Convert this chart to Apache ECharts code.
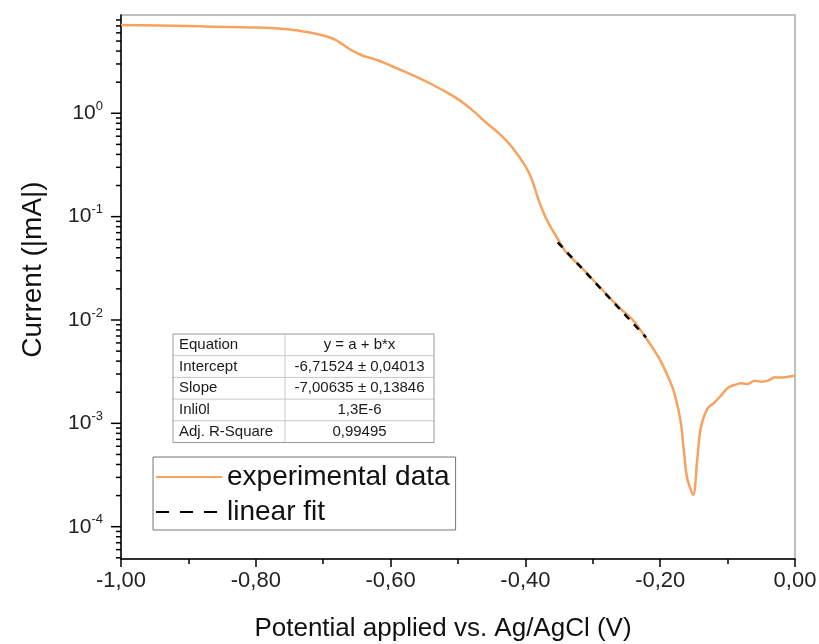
<!DOCTYPE html>
<html>
<head>
<meta charset="utf-8">
<script src="https://cdn.jsdelivr.net/npm/echarts@6/dist/echarts.min.js"></script>
<style>
  html, body { margin: 0; padding: 0; background: #fff; }
  #chart { width: 819px; height: 644px; }
</style>
</head>
<body>
<div id="chart"></div>
<script>
// potential (V) vs current (mA)
var potential = [-1.00, -0.90, -0.80, -0.75, -0.72, -0.70, -0.69, -0.68, -0.67, -0.66, -0.65, -0.64,
  -0.62, -0.60, -0.58, -0.56, -0.54, -0.52, -0.50, -0.48, -0.46, -0.44, -0.42, -0.40, -0.39, -0.38,
  -0.37, -0.36, -0.35, -0.34, -0.32, -0.30, -0.28, -0.26, -0.24, -0.22, -0.20, -0.19, -0.18, -0.17,
  -0.165, -0.16, -0.151, -0.145, -0.14, -0.13, -0.12, -0.11, -0.10, -0.09, -0.08, -0.07, -0.06, -0.05,
  -0.04, -0.03, -0.02, -0.01, 0.00];
var current = [7.15, 6.97, 6.76, 6.47, 6.05, 5.66, 5.41, 5.06, 4.58, 4.14, 3.83, 3.58,
  3.28, 2.89, 2.54, 2.22, 1.92, 1.64, 1.37, 1.09, 0.83, 0.645, 0.472, 0.308, 0.225, 0.142,
  0.098, 0.0743, 0.058, 0.0455, 0.0337, 0.0246, 0.0178, 0.0131, 0.00989, 0.00655, 0.0041, 0.00298, 0.00206, 0.00108,
  0.00055, 0.000296, 0.000203, 0.00045, 0.00089, 0.00139, 0.00158, 0.00185, 0.0022, 0.00235, 0.00244, 0.0024, 0.00259, 0.00253,
  0.00259, 0.00279, 0.00277, 0.00283, 0.00289];

var fitPotential = [-0.352, -0.221];
var fitCurrent = [0.0564, 0.0068];

var legendNames = ['experimental data', 'linear fit'];

var tableRows = [
  ['Equation', 'y = a + b*x'],
  ['Intercept', '-6,71524 \u00b1 0,04013'],
  ['Slope', '-7,00635 \u00b1 0,13846'],
  ['Inli0l', '1,3E-6'],
  ['Adj. R-Square', '0,99495']
];

var yMajorTicks = [1e-4, 1e-3, 1e-2, 1e-1, 1];
var yMinorMult = [2, 3, 4, 5, 6, 7, 8, 9];
var yMin = 4.87e-5, yMax = 8.93;

var expData = potential.map(function (v, i) { return [v, current[i]]; });
var fitData = fitPotential.map(function (v, i) { return [v, fitCurrent[i]]; });

var minorTickData = [];
[1e-5].concat(yMajorTicks).forEach(function (d) {
  yMinorMult.forEach(function (m) {
    var v = d * m;
    if (v >= yMin && v <= yMax) minorTickData.push([-1, v]);
  });
});
var majorTickData = yMajorTicks.map(function (v) { return [-1, v]; });

function tickSeries(data, len) {
  return {
    type: 'custom',
    silent: true,
    clip: false,
    z: 5,
    data: data,
    renderItem: function (params, api) {
      var p = api.coord([api.value(0), api.value(1)]);
      return {
        type: 'line',
        shape: { x1: p[0] - len, y1: p[1], x2: p[0], y2: p[1] },
        style: { stroke: '#000', lineWidth: 1.5 }
      };
    }
  };
}

// table of fit results
var tblX = 173, tblY = 334, rowH = 21.7, col1 = 112, col2 = 149;
var tableEls = [];
tableRows.forEach(function (r, i) {
  var y = tblY + i * rowH;
  if (i > 0) {
    tableEls.push({ type: 'line', shape: { x1: tblX, y1: y, x2: tblX + col1 + col2, y2: y },
      style: { stroke: '#c8c8c8', lineWidth: 1 } });
  }
  tableEls.push({ type: 'text', x: tblX + 6, y: y + rowH / 2,
    style: { text: r[0], font: '15px "Liberation Sans", Arial, sans-serif', fill: '#1a1a1a', verticalAlign: 'middle' } });
  tableEls.push({ type: 'text', x: tblX + col1 + col2 / 2, y: y + rowH / 2,
    style: { text: r[1], font: '15px "Liberation Sans", Arial, sans-serif', fill: '#1a1a1a', align: 'center', verticalAlign: 'middle' } });
});
tableEls.push({ type: 'line', shape: { x1: tblX + col1, y1: tblY, x2: tblX + col1, y2: tblY + rowH * 5 },
  style: { stroke: '#c8c8c8', lineWidth: 1 } });
tableEls.push({ type: 'rect', shape: { x: tblX, y: tblY, width: col1 + col2, height: rowH * 5 },
  style: { fill: null, stroke: '#999', lineWidth: 1 } });

var chart = echarts.init(document.getElementById('chart'));
chart.setOption({
  animation: false,
  backgroundColor: '#fff',
  textStyle: { fontFamily: '"Liberation Sans", Arial, sans-serif' },
  grid: { left: 121, right: 24, top: 15, bottom: 85, outerBoundsMode: 'none',
    show: true, borderColor: '#aaa', borderWidth: 1.5 },
  legend: {
    show: true,
    left: 153, top: 457,
    orient: 'vertical',
    backgroundColor: '#fff',
    borderColor: '#777', borderWidth: 1,
    padding: [6, 6, 4, 2],
    itemWidth: 66, itemHeight: 14, itemGap: 7,
    textStyle: { fontSize: 28, color: '#111', lineHeight: 26 },
    data: [
      { name: legendNames[0], itemStyle: { opacity: 0 } },
      { name: legendNames[1], itemStyle: { opacity: 0 }, lineStyle: { type: [13, 11] } }
    ]
  },
  xAxis: {
    type: 'value', min: -1, max: 0, interval: 0.2,
    name: 'Potential applied vs. Ag/AgCl (V)',
    nameLocation: 'middle', nameGap: 57,
    nameTextStyle: { fontSize: 26, color: '#111', padding: [0, 30, 0, 0] },
    axisLine: { onZero: false, lineStyle: { color: '#000', width: 1.5 } },
    axisTick: { length: 8, lineStyle: { color: '#000', width: 1.5 } },
    minorTick: { show: true, splitNumber: 2, length: 5, lineStyle: { color: '#000', width: 1.5 } },
    axisLabel: { fontSize: 22, color: '#222', margin: 11,
      formatter: function (v) { if (Math.abs(v) < 1e-9) v = 0; return v.toFixed(2).replace('.', ','); } },
    splitLine: { show: false }
  },
  yAxis: {
    type: 'log', logBase: 10, min: yMin, max: yMax,
    name: 'Current (|mA|)',
    nameLocation: 'middle', nameGap: 74, nameRotate: 90,
    nameTextStyle: { fontSize: 28, color: '#111', padding: [0, 0, 0, 35] },
    axisLine: { show: true, onZero: false, lineStyle: { color: '#000', width: 1.5 } },
    axisTick: { show: false },
    splitLine: { show: false },
    axisLabel: {
      margin: 18, color: '#222',
      showMinLabel: false, showMaxLabel: false,
      formatter: function (v) {
        var e = Math.log(v) / Math.LN10;
        var k = Math.round(e);
        if (Math.abs(e - k) > 1e-6) return '';
        return '{b|10}{s|' + k + '}';
      },
      rich: {
        b: { fontSize: 21, color: '#222' },
        s: { fontSize: 13, color: '#222', padding: [0, 0, 14, 0] }
      }
    }
  },
  series: [
    {
      name: legendNames[0], type: 'line', data: expData,
      showSymbol: false, symbol: 'none', smooth: 0.3,
      lineStyle: { color: '#F7A25E', width: 2.5 },
      itemStyle: { color: '#F7A25E' },
      z: 3
    },
    {
      name: legendNames[1], type: 'line', data: fitData,
      showSymbol: false, symbol: 'none',
      lineStyle: { color: '#000', width: 2.5, type: [7, 7] },
      itemStyle: { color: '#000' },
      z: 4
    },
    tickSeries(majorTickData, 10),
    tickSeries(minorTickData, 5)
  ],
  graphic: [{ type: 'group', children: tableEls }]
});
</script>
</body>
</html>
